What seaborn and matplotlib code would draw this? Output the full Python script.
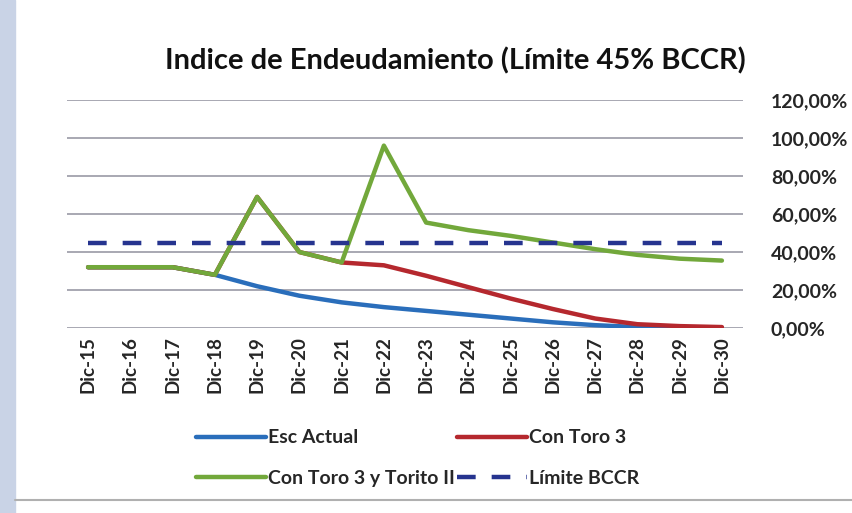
import numpy as np
import pandas as pd
import matplotlib
matplotlib.use("Agg")
import matplotlib.pyplot as plt
import seaborn as sns

# ---- data (in %) ----
periodos = ["Dic-15", "Dic-16", "Dic-17", "Dic-18", "Dic-19", "Dic-20", "Dic-21", "Dic-22",
            "Dic-23", "Dic-24", "Dic-25", "Dic-26", "Dic-27", "Dic-28", "Dic-29", "Dic-30"]
esc_actual = [32, 32, 32, 28, 22, 17, 13.5, 11, 9, 7, 5, 3, 1.5, 0.5, 0, 0]
con_toro3 = [32, 32, 32, 28, 69, 40, 34.5, 33, 27.5, 21.5, 15.5, 10, 5, 2, 1, 0.5]
con_toro3_torito = [32, 32, 32, 28, 69, 40, 34.5, 96, 55.5, 51.5, 48.5, 45, 41.5, 38.5, 36.5, 35.5]
limite_bccr = [45] * 16

series = ["Esc Actual", "Con Toro 3", "Con Toro 3 y Torito II", "Límite BCCR"]
colores = ["#2A6EBB", "#B5282E", "#72A83B", "#26348F"]
y_ticks = [0, 20, 40, 60, 80, 100, 120]

df = pd.concat([
    pd.DataFrame({"x": np.arange(len(periodos)), "valor": v, "serie": s})
    for s, v in zip(series, [esc_actual, con_toro3, con_toro3_torito, limite_bccr])
])

sns.set_theme(style="white")
plt.rcParams["font.family"] = ["Lato", "DejaVu Sans"]

fig = plt.figure(figsize=(8.52, 5.13), dpi=100)
ax = fig.add_axes([0.0786, 0.3606, 0.7935, 0.4444])

sns.lineplot(data=df, x="x", y="valor", hue="serie", hue_order=series,
             palette=colores, linewidth=3.2, ax=ax, legend=False, sort=False)
series_lines = list(ax.lines)
series_lines[-1].set_dashes((4.2, 3.6))
series_lines[-1].set_dash_capstyle("butt")

ax.set_axisbelow(True)
ax.yaxis.grid(True, color="#9A9AA6", lw=1.2)
ax.xaxis.grid(False)

ax.set_xlim(-0.5, len(periodos) - 0.5)
ax.set_ylim(0, 120)
ax.set_xticks(np.arange(len(periodos)))
ax.set_xticklabels(periodos, rotation=90, fontsize=13.5, fontweight="bold")
ax.yaxis.tick_right()
ax.set_yticks(y_ticks)
ax.set_yticklabels([f"{t},00%" for t in y_ticks], fontsize=14, fontweight="bold")
ax.tick_params(axis="y", pad=20, length=0)
ax.tick_params(axis="x", pad=6, length=0)
ax.set_xlabel("")
ax.set_ylabel("")
for s in ax.spines.values():
    s.set_visible(False)

fig.text(0.535, 0.881, "Indice de Endeudamiento (Límite 45% BCCR)",
         ha="center", va="center", fontsize=21, fontweight="bold", color="#111111")

# legend in row order
order = [0, 2, 1, 3]
leg = fig.legend([series_lines[i] for i in order], [series[i] for i in order],
                 ncol=2, loc="center", bbox_to_anchor=(0.49, 0.107),
                 frameon=False, fontsize=14, handlelength=3.6,
                 handletextpad=0.1, columnspacing=0.1, labelspacing=1.2)
for t in leg.get_texts():
    t.set_fontweight("bold")

# photo frame
fig.patches.append(plt.Rectangle((0, 0), 0.018, 1, transform=fig.transFigure,
                                 color="#C9D3E6", zorder=-1))
fig.add_artist(plt.Line2D([0.018, 1], [0.025, 0.025], transform=fig.transFigure,
                          color="#B0B0B0", lw=1.5))

fig.savefig("out.png", dpi=100)
